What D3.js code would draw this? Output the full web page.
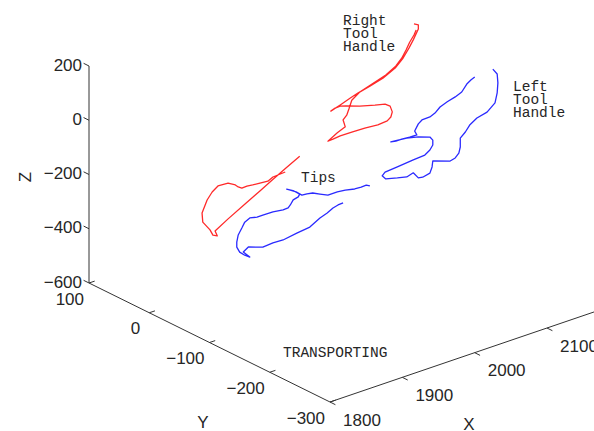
<!DOCTYPE html>
<html>
<head>
<meta charset="utf-8">
<script src="https://cdn.jsdelivr.net/npm/d3@7"></script>
<style>
  body { margin: 0; background: #fff; }
  svg { display: block; }
  .tick-label { font-family: "Liberation Sans", Arial, sans-serif; font-size: 17px; fill: #262626; }
  .note { font-family: "Liberation Mono", "Courier New", monospace; font-size: 14.5px; fill: #262626; }
</style>
</head>
<body>
<svg id="chart" width="594" height="431"></svg>
<script>
// tick values
const xTicks = [1800, 1900, 2000, 2100];
const yTicks = [100, 0, -100, -200, -300];
const zTicks = [-600, -400, -200, 0, 200];

// trajectories, [x, y, z]
const rightHandle = [
  [2166,0,132],[2172,0,123],[2172,0,108],[2165,0,74],[2159,0,49],[2151,0,20],[2140,0,-7],
  [2123,0,-29],[2105,0,-42],[2089,0,-52],[2078,0,-61],[2064,0,-74],[2051,0,-85],
  [2057,0,-79],[2064,0,-78],[2072,0,-85],[2091,0,-103],[2112,0,-118],[2126,0,-127],
  [2133,0,-141],[2136,0,-165],[2134,0,-182],[2129,0,-192],[2116,0,-195],[2098,0,-190],
  [2080,0,-189],[2064,0,-188],[2054,0,-191],[2047,0,-192],[2060,0,-173],[2071,0,-161],
  [2068,0,-133],[2073,0,-120],[2076,0,-100],[2080,0,-71],[2091,0,-51],[2108,0,-37],
  [2127,0,-21],[2141,0,0],[2149,0,21],[2155,0,46],[2160,0,70],[2166,0,91],[2169,0,107]
];
const leftHandle = [
  [2250,0,-140],[2245,0,-146],[2239,0,-156],[2232,0,-179],[2223,0,-189],[2212,0,-197],
  [2202,0,-207],[2195,0,-223],[2188,0,-231],[2177,0,-232],[2172,0,-242],[2167,0,-264],
  [2170,0,-281],[2160,0,-280],[2149,0,-277],[2141,0,-277],[2134,0,-274],[2144,0,-276],
  [2156,0,-280],[2172,0,-290],[2188,0,-305],[2192,0,-320],[2192,0,-338],[2188,0,-353],
  [2181,0,-365],[2165,0,-368],[2143,0,-374],[2126,0,-378],[2122,0,-388],[2127,0,-404],
  [2143,0,-415],[2156,0,-423],[2165,0,-416],[2172,0,-441],[2178,0,-444],[2188,0,-438],
  [2191,0,-418],[2192,0,-397],[2216,0,-419],[2223,0,-414],[2228,0,-401],[2230,0,-380],
  [2230,0,-347],[2237,0,-331],[2243,0,-311],[2253,0,-294],[2267,0,-285],[2278,0,-261],
  [2281,0,-227],[2282,0,-191],[2281,0,-157],[2275,0,-134]
];
const rightTip = [
  [1988,0,-252],[1971,0,-255],[1964,0,-264],[1953,0,-261],[1943,0,-259],[1935,0,-256],
  [1928,0,-257],[1923,0,-248],[1919,0,-237],[1909,0,-221],[1895,0,-219],[1887,0,-234],
  [1880,0,-257],[1873,0,-299],[1874,0,-333],[1884,0,-371],[1888,0,-394],[1894,0,-402],
  [1891,0,-381],[1909,0,-353],[1932,0,-320],[1953,0,-290],[1970,0,-265],[1989,0,-238],
  [2008,0,-212]
];
const leftTip = [
  [2105,0,-410],[2100,0,-402],[2093,0,-403],[2084,0,-402],[2071,0,-394],[2060,0,-391],
  [2047,0,-391],[2036,0,-377],[2026,0,-364],[2018,0,-360],[2011,0,-358],[2003,0,-339],
  [1995,0,-325],[1990,0,-317],[2000,0,-333],[2008,0,-352],[2006,0,-360],[1999,0,-365],
  [1995,0,-380],[1992,0,-388],[1985,0,-389],[1971,0,-384],[1957,0,-383],[1949,0,-383],
  [1939,0,-377],[1932,0,-386],[1928,0,-404],[1923,0,-425],[1921,0,-450],[1921,0,-468],
  [1925,0,-490],[1932,0,-508],[1939,0,-521],[1930,0,-494],[1937,0,-482],[1957,0,-501],
  [1971,0,-498],[1985,0,-500],[2004,0,-492],[2022,0,-486],[2036,0,-465],[2046,0,-456],
  [2054,0,-445],[2061,0,-440],[2068,0,-439]
];

const svg = d3.select('#chart');

// oblique 3d view: each data axis adds a screen offset
const origin = [89, 283];
const xToPx = d3.scaleLinear().domain([1800, 2100]).range([0, 217]);
const xToPy = d3.scaleLinear().domain([1800, 2100]).range([0, -74]);
const yToPx = d3.scaleLinear().domain([100, -300]).range([0, 241]);
const yToPy = d3.scaleLinear().domain([100, -300]).range([0, 119]);
const zToPy = d3.scaleLinear().domain([-600, 200]).range([0, -217]);

function project(x, y, z) {
  return [origin[0] + xToPx(x) + yToPx(y), origin[1] + xToPy(x) + yToPy(y) + zToPy(z)];
}

const axisColor = '#333';
const fmt = v => String(v).replace('-', '\u2212');

function segment(a, b) {
  svg.append('line')
    .attr('x1', a[0]).attr('y1', a[1]).attr('x2', b[0]).attr('y2', b[1])
    .attr('stroke', axisColor).attr('stroke-width', 1);
}

// axis lines
segment(project(1800, 100, -600), project(1800, 100, 200));   // z
segment(project(1800, 100, -600), project(1800, -300, -600)); // y
segment(project(1800, -300, -600), project(2300, -300, -600)); // x

// z ticks
zTicks.forEach(v => {
  const p = project(1800, 100, v);
  segment(p, [p[0] - 5.4, p[1] - 2.7]);
  svg.append('text').attr('class', 'tick-label')
    .attr('x', 82).attr('y', p[1] - 1)
    .attr('text-anchor', 'end').attr('dominant-baseline', 'central')
    .text(fmt(v));
});

// y ticks
yTicks.forEach(v => {
  const p = project(1800, v, -600);
  segment(p, [p[0] + 5.7, p[1] - 1.9]);
  svg.append('text').attr('class', 'tick-label')
    .attr('x', p[0] - (v === 0 ? 9 : 5)).attr('y', p[1] + 16)
    .attr('text-anchor', 'end').attr('dominant-baseline', 'central')
    .text(fmt(v));
});

// x ticks
xTicks.forEach(v => {
  const p = project(v, -300, -600);
  segment(p, [p[0] + 5.4, p[1] + 2.7]);
  svg.append('text').attr('class', 'tick-label')
    .attr('x', p[0] + 32).attr('y', p[1] + 18)
    .attr('text-anchor', 'middle').attr('dominant-baseline', 'central')
    .text(fmt(v));
});

// axis titles
svg.append('text').attr('class', 'tick-label')
  .attr('transform', 'translate(25,177) rotate(-90)')
  .attr('text-anchor', 'middle').attr('dominant-baseline', 'central')
  .text('Z');
svg.append('text').attr('class', 'tick-label')
  .attr('x', 203).attr('y', 422)
  .attr('text-anchor', 'middle').attr('dominant-baseline', 'central')
  .text('Y');
svg.append('text').attr('class', 'tick-label')
  .attr('x', 469).attr('y', 424)
  .attr('text-anchor', 'middle').attr('dominant-baseline', 'central')
  .text('X');

// trajectories
const line = d3.line()
  .x(d => project(d[0], d[1], d[2])[0])
  .y(d => project(d[0], d[1], d[2])[1]);

const tracks = [
  { data: rightHandle, color: '#ff2a2a' },
  { data: rightTip, color: '#ff2a2a' },
  { data: leftHandle, color: '#2a2aff' },
  { data: leftTip, color: '#2a2aff' }
];

svg.selectAll('path.track')
  .data(tracks)
  .join('path')
  .attr('class', 'track')
  .attr('d', d => line(d.data))
  .attr('fill', 'none')
  .attr('stroke', d => d.color)
  .attr('stroke-width', 1.3)
  .attr('stroke-linejoin', 'round');

// notes, one text element per note
function note(lines, x, y) {
  const t = svg.append('text').attr('class', 'note').attr('x', x).attr('y', y);
  lines.forEach((s, i) => {
    t.append('tspan').attr('x', x).attr('dy', i === 0 ? 0 : 13).text(s);
  });
}
note(['Right', 'Tool', 'Handle'], 343, 25);
note(['Left', 'Tool', 'Handle'], 513, 91);
note(['Tips'], 301, 182);
note(['TRANSPORTING'], 283, 357);
</script>
</body>
</html>
